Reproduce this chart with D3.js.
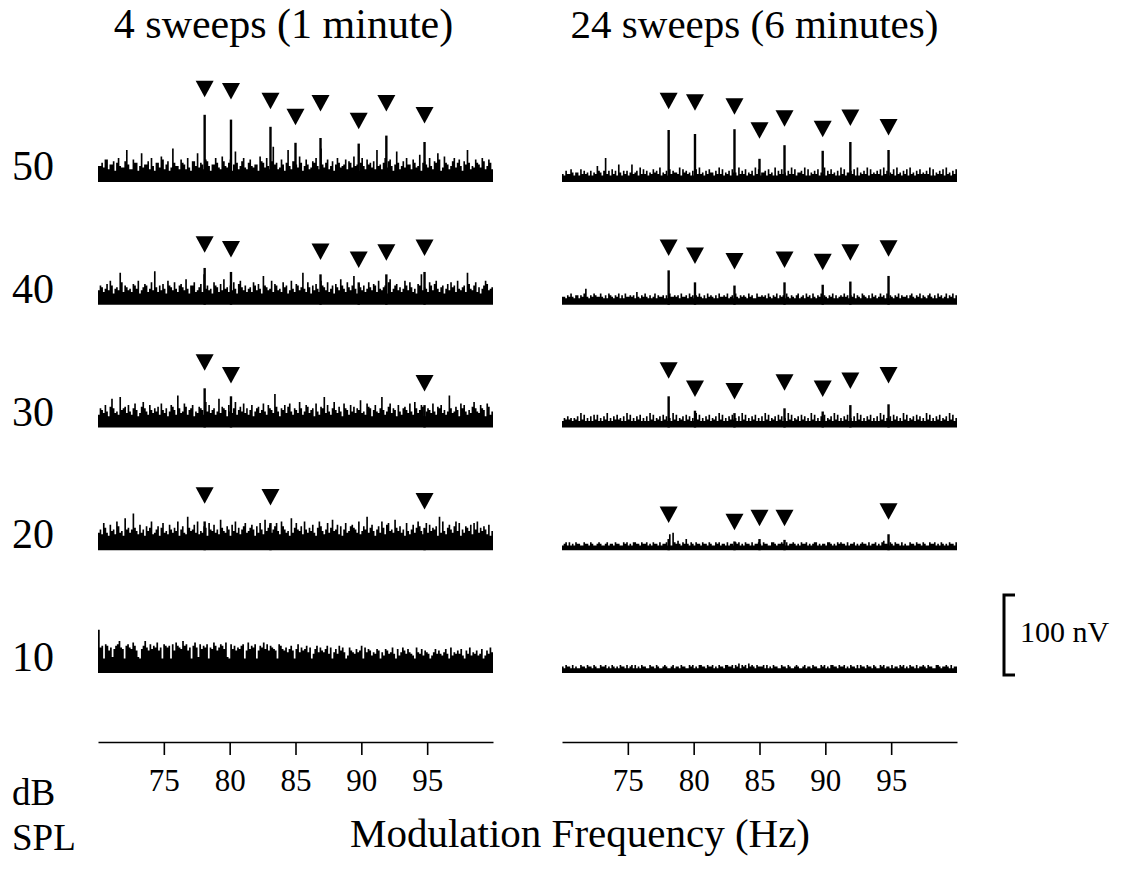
<!DOCTYPE html>
<html><head><meta charset="utf-8">
<script src="https://cdn.jsdelivr.net/npm/d3@7"></script>
<style>
body{margin:0;background:#fff}
svg{display:block}
text{font-family:"Liberation Serif","Times New Roman",serif;fill:#000}
</style>
</head><body>
<svg id="c" width="1122" height="872"></svg>
<script>
// ---------------- data ----------------
const panelTitles = ["4 sweeps (1 minute)", "24 sweeps (6 minutes)"];
const levels = ["50", "40", "30", "20", "10"];
const tickValues = [75, 80, 85, 90, 95];
const freqDomain = [70, 100];
const signalFreqs = [78.1, 80.1, 83.1, 85.0, 86.9, 89.8, 91.9, 94.8];

// response peak amplitudes (nV) at each signal frequency, per level (null = none)
const peaks4 = [
  [84, 78, 69, 49, 55, 48, 58, 50],
  [46, 41, null, null, 38, 28, 38, 41],
  [49, 39, null, null, null, null, null, 28],
  [36, null, 34, null, null, null, null, 28],
  [null, null, null, null, null, null, null, null]
];
// marker (triangle tip) levels (nV), per level
const markers4 = [
  [106, 103, 91, 71, 88, 66, 88, 73],
  [65, 59, null, null, 56, 46, 55, 61],
  [71, 55, null, null, null, null, null, 45],
  [58, null, 56, null, null, null, null, 51],
  [null, null, null, null, null, null, null, null]
];
const peaks24 = [
  [65, 60, 66, 29, 46, 39, 50, 40],
  [43, 28, 24, null, 28, 25, 29, 36],
  [39, 21, 18, null, 24, 20, 28, 29],
  [14, null, 11, 14, 13, null, null, 20],
  [null, null, null, null, null, null, null, null]
];
const markers24 = [
  [91, 89, 84, 54, 69, 56, 70, 58],
  [61, 51, 44, null, 46, 43, 55, 60],
  [61, 38, 35, null, 46, 38, 48, 55],
  [34, null, 25, 30, 30, null, null, 38],
  [null, null, null, null, null, null, null, null]
];

// background noise spectra: one base-36 character per frequency bin, in units of 2 nV
const noiseUnit = 2;
const noise4 = [
  "aac9ee8bbd 7cfa99dkb8 8ecc7ai9bb d8fa7cc9ge 8bd79lcaa8 ecb8f97dda i9cb8eda7b bfc98gda9c e7bjc8adf9 8cea9bb7gd c9fa8dmbc8 9eb7cka8dd b9gc7aeb89 dcfa8lb9ce 8ad7bfc9ab e8dc9gab7c fa8ebc9d8k ab8cf9dea7 bjc8ad9fbb 8ec9ah7cdb 9fa8dcie79 gcb8adf9ce a7dbkc8a9e cb9fd8aec8",
  "9cb8ad9fc7 ab9ke8cb9a 8dcaf79bdc 8ae9lb8c9d a7fcb9ea8c db9ga7cce8 9bd8jac9a7 ecb8d9gab8 c9ea7dfb9c 8ab8ec9da7 icb9af8dc9 a8ebc79fa8 dc9bka8eb7 c9da8fcb9e 8ac7db9gca 8eb9cia7db 9c8aeb9dc8 fa9bc7eg8a cd9b8afc9e b8a7dcj9ba 8ec9dfa8bc 7ad9ebc8fa 9bc8kda9ce 8b7acfd9ab",
  "8cb9ea7dic 9a8jbcd9ea 8cfb79dgca 8eb9cad8fb 9c7aedb8kc 9afd8bce7a 9dcb8gae9b c8ai9dcb7e a9cg8bdaf9 c8be7acd9b fa8ecb9lda 7cbe9dfa8c b9gc8aed9b c7fa8dcj9e a8cgb9da7f cb8ead9cbh 9a8fdc7bea 9cjb8adf9c b7ea8cdb9f a8gc9bed7a cb9fa8dce9 b8akc9adb7 fcea8b9dgc a9ecb7fd8a",
  "bdaheb9gcd aifbc9kdeb dnecagbd9f ceiabdf9eh bcagdbeci9 dfbalecdgb iacbfe9hdc gbdajecbfd 9gcibeadfh bcegd9fbhd ajcegbdfhc aifdbc9kbe hdcfaidbec gb9eifcadh bejcdgaf9d hbcfgedbia cfdlbegc9d fbieaghcdb jecfbd9hca dgbeifcadh bgcedf9lbi caegdbfich 9dbfecgahd ibecfdag9c",
  "rgh9ihegaf hikgf9higf jhea9fhkge ifhgjeg9ih gh9iejhgfk hieg9hjgai fhgi9gfjhe gihfja9ifh egfhi9ejfh gi9ehgjfie hgfe9ihfeg dfhe9fidge fhdg9cfhdg edfhcg9dfc hegd9bgedc fdeh9gdfeb dcfe9dbfec dgc9fbdgec fdcb9gdcfb edc9bdfcec bdfc9gbdce cfb9ecgbdc ebcf9becgd"
];
const noise24 = [
  "5475586466 4857564746 5a7647f574 8574b64757 46b5674958 5746586759 4657485766 5948675647 4859564758 6647595846 5748664957 5846574958 4667485649 4758564759 5846675948 4657584659 4758564749 5846675849 4657594856 5758495746 5849564758 4956475856 5759484657 5849564758",
  "5546575466 4657a54657 6557546476 5465746475 5656485465 7546457465 5646475565 6475564756 4657546475 6546475565 7456475465 6547564475 5656475465 7465647546 5467456475 6475465746 5465746456 5756465746 5476546475 6457564746 5465746556 4675465746 5467546475 6457465746",
  "4657564657 4958464748 5846475946 4758564749 5846475846 4749584657 4857464958 4657485746 4958464758 4657495846 4758564749 5846475846 4749584657 4857464958 4657485746 4958464758 4657495846 4758464749 5846475846 4749584657 4857464958 4657485746 4958464758 4657495846",
  "3453534354 4335443543 3454334534 4354433545 3435544354 4534354435 34453a3b54 6435474354 3544354435 4335453443 5344354534 3544353445 4354433554 3445435344 5434354453 4345534344 3554343545 4435344534 3454435344 5343564435 4354435343 3544354435 4335445343 5434354435",
  "4354435343 3544354435 4335445343 5434354435 3453534354 4335443543 3454334534 4354433545 3435544354 4534354435 5445354635 4536454354 4453534354 4335443543 3454334534 4354433545 3435544354 4534354435 3544354435 4335453443 5344354534 3544353445 4354433554 3445435344"
];
const scaleBarValue = 100; // nV
const scaleBarLabel = "100 nV";
const xLabel = "Modulation Frequency (Hz)";
const yLabelLines = ["dB", "SPL"];

// ---------------- layout ----------------
const svg = d3.select("#c");
const FONT = '"Liberation Serif","Times New Roman",serif';
const panelRanges = [[98, 493], [562, 957]];
const rowY = d3.scalePoint().domain(levels).range([182, 673]);
const amp = d3.scaleLinear().domain([0, 100]).range([0, 80]); // nV -> px height
const axisY = 742;

const panelData = [
  {title: panelTitles[0], noise: noise4, peaks: peaks4, markers: markers4},
  {title: panelTitles[1], noise: noise24, peaks: peaks24, markers: markers24}
];

panelData.forEach((p, pi) => {
  const x = d3.scaleLinear().domain(freqDomain).range(panelRanges[pi]);
  const g = svg.append("g");

  g.append("text")
    .attr("x", (panelRanges[pi][0] + panelRanges[pi][1]) / 2 - (pi === 0 ? 12 : 5))
    .attr("y", 38)
    .attr("text-anchor", "middle")
    .style("font-size", pi === 0 ? "42px" : "41px")
    .text(p.title);

  levels.forEach((lev, li) => {
    const base = rowY(lev);
    const vals = p.noise[li].replace(/\s/g, "").split("").map(c => parseInt(c, 36) * noiseUnit);
    const n = vals.length;
    const binW = (freqDomain[1] - freqDomain[0]) / n;
    const pts = vals.map((v, i) => ({f: freqDomain[0] + i * binW, v}));
    pts.push({f: freqDomain[1], v: vals[n - 1]});
    const area = d3.area()
      .x(d => x(d.f))
      .y0(base)
      .y1(d => base - amp(d.v))
      .curve(d3.curveStepAfter);
    g.append("path").attr("d", area(pts)).attr("fill", "#000");

    signalFreqs.forEach((f, k) => {
      const pv = p.peaks[li][k];
      if (pv != null) {
        g.append("rect")
          .attr("x", x(f) - 1.2)
          .attr("width", 2.4)
          .attr("y", base - amp(pv))
          .attr("height", amp(pv))
          .attr("fill", "#000");
      }
      const mv = p.markers[li][k];
      if (mv != null) {
        const tx = x(f), ty = base - amp(mv);
        g.append("path")
          .attr("d", `M${tx - 9},${ty - 16.5}L${tx + 9},${ty - 16.5}L${tx},${ty}Z`)
          .attr("fill", "#000");
      }
    });
  });

  const axis = d3.axisBottom(x).tickValues(tickValues).tickSize(13).tickPadding(14).tickSizeOuter(0);
  const ag = g.append("g").attr("transform", `translate(0,${axisY})`).call(axis);
  ag.select(".domain").attr("stroke", "#000").attr("stroke-width", 1.6);
  ag.selectAll(".tick line").attr("stroke", "#000").attr("stroke-width", 1.6);
  ag.selectAll(".tick text")
    .style("font-family", FONT).style("font-size", "31px").attr("fill", "#000")
    .attr("dy", "0.71em");
});

levels.forEach(lev => {
  svg.append("text")
    .attr("x", 12).attr("y", rowY(lev) - 2)
    .style("font-size", "42px")
    .text(lev);
});

yLabelLines.forEach((t, i) => {
  svg.append("text").attr("x", 12).attr("y", 805 + i * 45)
    .style("font-size", "37px").text(t);
});

svg.append("text").attr("x", 580).attr("y", 847)
  .attr("text-anchor", "middle").style("font-size", "41px").text(xLabel);

const sbBottom = 675, sbX = 1004;
const sbTop = sbBottom - amp(scaleBarValue);
svg.append("path")
  .attr("d", `M${sbX + 11},${sbTop}H${sbX}V${sbBottom}H${sbX + 11}`)
  .attr("fill", "none").attr("stroke", "#000").attr("stroke-width", 3);
svg.append("text").attr("x", 1020).attr("y", 642)
  .style("font-size", "30px").text(scaleBarLabel);
</script>
</body></html>
